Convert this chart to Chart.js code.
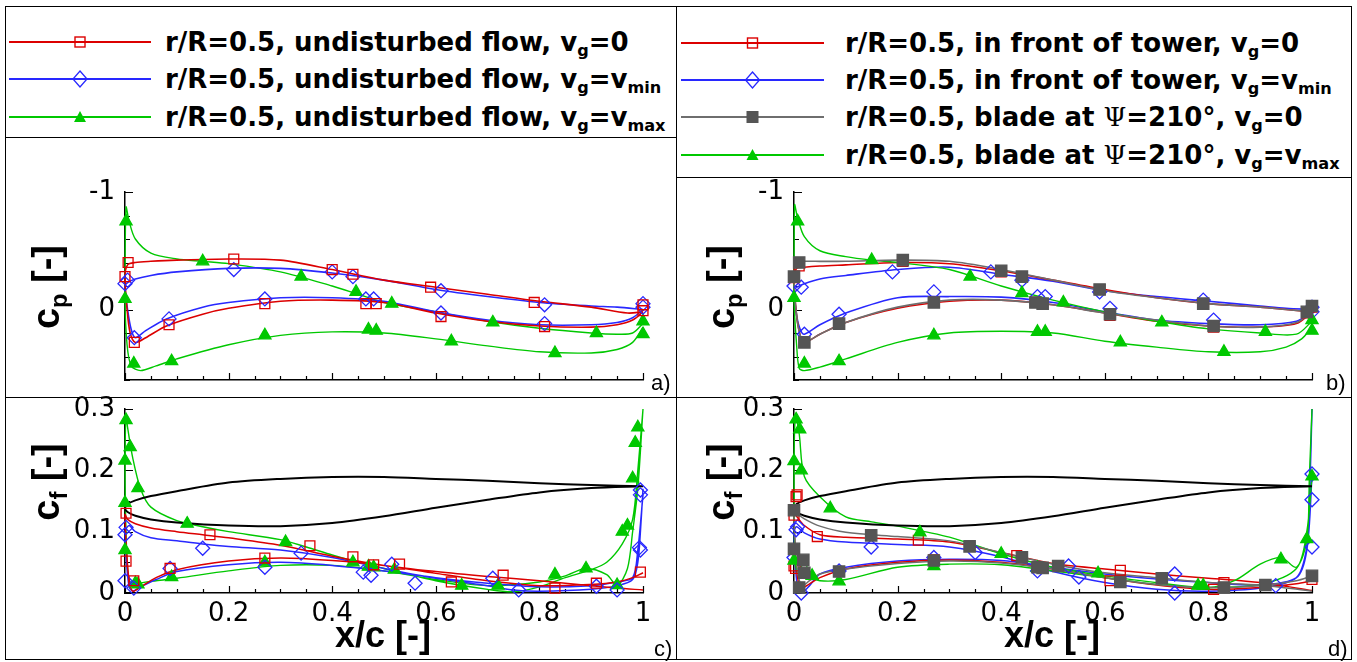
<!DOCTYPE html>
<html>
<head>
<meta charset="utf-8">
<script src="https://cdn.jsdelivr.net/npm/chart.js@4.4.1/dist/chart.umd.min.js"></script>
<style>
  html, body { margin: 0; padding: 0; background: #fff; }
  body { width: 1357px; height: 662px; position: relative; overflow: hidden; }
  .rule { position: absolute; background: #000; }
  canvas { position: absolute; }
  .leg { position: absolute; white-space: nowrap; font: bold 26px "DejaVu Sans", sans-serif; line-height: 30px; color: #000; }
  .leg sub, .ytitle sub { font-size: 62%; position: relative; top: 0.32em; vertical-align: baseline; line-height: 0; }
  .psi { font-family: "DejaVu Serif", serif; font-weight: normal; }
  .sym { position: absolute; }
  .ytitle { position: absolute; white-space: nowrap; font: bold 38px "Liberation Sans", sans-serif; transform: translate(-50%, -50%) rotate(-90deg); }
  .xtitle { position: absolute; white-space: nowrap; font: bold 36px "Liberation Sans", sans-serif; transform: translate(-50%, -50%); }
  .tag { position: absolute; font: 22px "Liberation Sans", sans-serif; }
</style>
</head>
<body>

<div class="rule" style="left:5px;top:6px;width:1347px;height:1px"></div>
<div class="rule" style="left:5px;top:659px;width:1347px;height:1px"></div>
<div class="rule" style="left:5px;top:6px;width:1px;height:654px"></div>
<div class="rule" style="left:1351px;top:6px;width:1px;height:654px"></div>
<div class="rule" style="left:676px;top:6px;width:1px;height:654px"></div>
<div class="rule" style="left:5px;top:137px;width:671px;height:1px"></div>
<div class="rule" style="left:676px;top:177px;width:676px;height:1px"></div>
<div class="rule" style="left:5px;top:397px;width:1347px;height:1px"></div>

<div id="legend"></div>

<canvas id="pa" width="671" height="241" style="left:5px;top:166px"></canvas>
<canvas id="pb" width="676" height="241" style="left:676px;top:166px"></canvas>
<canvas id="pc" width="671" height="277" style="left:5px;top:383px"></canvas>
<canvas id="pd" width="676" height="277" style="left:676px;top:383px"></canvas>

<div class="ytitle" style="left:46px;top:287px">c<sub>p</sub> [-]</div>
<div class="ytitle" style="left:721px;top:287px">c<sub>p</sub> [-]</div>
<div class="ytitle" style="left:46px;top:482px">c<sub>f</sub> [-]</div>
<div class="ytitle" style="left:721px;top:482px">c<sub>f</sub> [-]</div>
<div class="xtitle" style="left:383px;top:635px">x/c [-]</div>
<div class="xtitle" style="left:1052px;top:635px">x/c [-]</div>
<div class="tag" style="left:651px;top:370px">a)</div>
<div class="tag" style="left:1326px;top:370px">b)</div>
<div class="tag" style="left:654px;top:636px">c)</div>
<div class="tag" style="left:1328px;top:636px">d)</div>

<script>
// pressure coefficient, undisturbed flow: each curve runs TE -> LE over the suction side, then LE -> TE
const aRedX   = [1, 0.97, 0.9, 0.8, 0.7, 0.6, 0.5, 0.4, 0.3, 0.2, 0.1, 0.05, 0.02, 0.005, 0, 0.004, 0.01, 0.02, 0.04, 0.08, 0.15, 0.2, 0.3, 0.4, 0.5, 0.6, 0.7, 0.8, 0.9, 0.95, 0.98, 1];
const aRedY   = [0.02, 0.03, -0.02, -0.07, -0.13, -0.19, -0.25, -0.34, -0.42, -0.43, -0.42, -0.41, -0.40, -0.38, -0.28, 0.0, 0.2, 0.28, 0.24, 0.14, 0.04, -0.01, -0.07, -0.08, -0.06, 0.03, 0.1, 0.14, 0.15, 0.13, 0.09, 0.02];
const aRedMx  = [0, 0.006, 0.21, 0.40, 0.44, 0.59, 0.79, 1.0, 0.018, 0.085, 0.27, 0.465, 0.485, 0.61, 0.81, 1.0];
const aRedMy  = [-0.28, -0.40, -0.43, -0.34, -0.30, -0.19, -0.06, -0.04, 0.28, 0.13, -0.05, -0.05, -0.05, 0.06, 0.145, 0.01];

const aBlueX  = [1, 0.95, 0.9, 0.8, 0.7, 0.6, 0.5, 0.4, 0.3, 0.2, 0.1, 0.05, 0.02, 0.005, 0, 0.005, 0.012, 0.02, 0.04, 0.08, 0.15, 0.2, 0.3, 0.4, 0.5, 0.6, 0.7, 0.8, 0.9, 0.95, 0.98, 1];
const aBlueY  = [0.0, -0.02, -0.03, -0.06, -0.11, -0.17, -0.25, -0.31, -0.35, -0.35, -0.32, -0.29, -0.26, -0.23, -0.2, 0.0, 0.17, 0.24, 0.18, 0.08, -0.02, -0.06, -0.1, -0.1, -0.07, 0.02, 0.09, 0.13, 0.13, 0.11, 0.07, 0.0];
const aBlueMx = [0, 0.005, 0.21, 0.40, 0.44, 0.61, 0.81, 1.0, 0.018, 0.085, 0.27, 0.465, 0.48, 0.61, 0.81, 1.0];
const aBlueMy = [-0.22, -0.25, -0.34, -0.32, -0.28, -0.16, -0.04, -0.05, 0.24, 0.08, -0.09, -0.09, -0.09, 0.03, 0.12, -0.02];

const aGreenX  = [1, 0.98, 0.95, 0.9, 0.8, 0.7, 0.6, 0.5, 0.45, 0.4, 0.3, 0.2, 0.15, 0.1, 0.05, 0.02, 0.008, 0.002, 0, 0.004, 0.012, 0.03, 0.06, 0.1, 0.2, 0.3, 0.4, 0.5, 0.6, 0.7, 0.8, 0.9, 0.95, 0.98, 1];
const aGreenY  = [0.12, 0.2, 0.21, 0.2, 0.16, 0.1, 0.02, -0.06, -0.13, -0.2, -0.32, -0.39, -0.41, -0.43, -0.48, -0.6, -0.75, -0.87, -0.1, 0.3, 0.48, 0.52, 0.48, 0.42, 0.3, 0.22, 0.19, 0.2, 0.25, 0.31, 0.36, 0.37, 0.34, 0.28, 0.15];
const aGreenMx = [0.002, 0, 0.15, 0.34, 0.446, 0.515, 0.71, 0.91, 1.0, 0.017, 0.09, 0.27, 0.47, 0.485, 0.63, 0.83, 1.0];
const aGreenMy = [-0.75, -0.09, -0.41, -0.28, -0.15, -0.05, 0.11, 0.20, 0.10, 0.46, 0.44, 0.22, 0.17, 0.18, 0.27, 0.37, 0.21];

// pressure coefficient, in front of the tower and at psi = 210 deg
const bGreyX  = [1, 0.95, 0.9, 0.8, 0.7, 0.6, 0.5, 0.4, 0.3, 0.2, 0.1, 0.05, 0.02, 0.005, 0, 0.005, 0.012, 0.02, 0.05, 0.1, 0.2, 0.3, 0.4, 0.5, 0.6, 0.7, 0.8, 0.9, 0.97, 1];
const bGreyY  = [0.02, 0.0, -0.02, -0.05, -0.1, -0.16, -0.25, -0.34, -0.41, -0.42, -0.41, -0.41, -0.41, -0.40, -0.28, 0.05, 0.22, 0.28, 0.21, 0.11, -0.02, -0.08, -0.08, -0.04, 0.03, 0.09, 0.14, 0.15, 0.11, 0.02];
const bGreyMx = [0, 0.01, 0.21, 0.40, 0.44, 0.59, 0.79, 1.0, 0.02, 0.087, 0.27, 0.466, 0.48, 0.61, 0.81, 0.99];
const bGreyMy = [-0.28, -0.40, -0.42, -0.33, -0.28, -0.17, -0.05, -0.03, 0.28, 0.12, -0.06, -0.06, -0.05, 0.04, 0.14, 0.02];

const bRedX   = [1, 0.95, 0.9, 0.8, 0.7, 0.6, 0.5, 0.4, 0.3, 0.2, 0.1, 0.05, 0.02, 0.005, 0, 0.005, 0.012, 0.02, 0.05, 0.1, 0.2, 0.3, 0.4, 0.5, 0.6, 0.7, 0.8, 0.9, 0.97, 1];
const bRedY   = [0.02, 0.0, -0.02, -0.05, -0.1, -0.17, -0.25, -0.33, -0.39, -0.40, -0.38, -0.37, -0.36, -0.35, -0.27, 0.05, 0.22, 0.28, 0.21, 0.11, -0.01, -0.07, -0.08, -0.04, 0.03, 0.1, 0.14, 0.15, 0.12, 0.02];
const bRedMx  = [0, 0.01, 0.21, 0.40, 0.44, 0.59, 0.79, 1.0, 0.02, 0.087, 0.27, 0.466, 0.48, 0.61, 0.81, 0.99];
const bRedMy  = [-0.27, -0.37, -0.41, -0.32, -0.28, -0.17, -0.05, -0.02, 0.28, 0.12, -0.06, -0.06, -0.05, 0.05, 0.15, 0.03];

const bBlueX  = [1, 0.95, 0.9, 0.8, 0.7, 0.6, 0.5, 0.4, 0.3, 0.2, 0.1, 0.05, 0.02, 0.005, 0, 0.005, 0.012, 0.02, 0.05, 0.1, 0.2, 0.3, 0.4, 0.5, 0.6, 0.7, 0.8, 0.9, 0.97, 1];
const bBlueY  = [0.0, -0.01, -0.03, -0.07, -0.11, -0.16, -0.24, -0.30, -0.36, -0.34, -0.29, -0.26, -0.22, -0.19, -0.2, 0.05, 0.17, 0.21, 0.13, 0.03, -0.1, -0.11, -0.105, -0.06, 0.02, 0.09, 0.12, 0.13, 0.1, 0.02];
const bBlueMx = [0, 0.014, 0.19, 0.38, 0.44, 0.59, 0.79, 1.0, 0.02, 0.087, 0.27, 0.47, 0.485, 0.61, 0.81, 1.0];
const bBlueMy = [-0.2, -0.19, -0.32, -0.32, -0.25, -0.15, -0.08, -0.02, 0.21, 0.04, -0.15, -0.11, -0.11, -0.01, 0.09, 0.02];

const bGreenX  = [1, 0.97, 0.9, 0.8, 0.7, 0.6, 0.5, 0.4, 0.3, 0.2, 0.15, 0.1, 0.05, 0.02, 0.007, 0.001, 0, 0.005, 0.01, 0.02, 0.05, 0.1, 0.2, 0.3, 0.4, 0.5, 0.6, 0.7, 0.8, 0.9, 0.95, 0.98, 1];
const bGreenY  = [0.1, 0.21, 0.2, 0.165, 0.1, 0.02, -0.08, -0.2, -0.34, -0.40, -0.42, -0.45, -0.5, -0.62, -0.78, -0.89, -0.1, 0.3, 0.5, 0.52, 0.49, 0.42, 0.28, 0.2, 0.185, 0.2, 0.27, 0.32, 0.36, 0.36, 0.32, 0.25, 0.15];
const bGreenMx = [0.007, 0, 0.15, 0.34, 0.44, 0.52, 0.71, 0.91, 1.0, 1.0, 0.02, 0.087, 0.27, 0.47, 0.485, 0.63, 0.83];
const bGreenMy = [-0.75, -0.1, -0.42, -0.28, -0.14, -0.06, 0.11, 0.19, 0.09, 0.18, 0.46, 0.44, 0.22, 0.19, 0.19, 0.28, 0.36];

// blade section outline drawn over the skin friction plots
const foilX = [1, 0.9, 0.8, 0.7, 0.6, 0.5, 0.4, 0.3, 0.2, 0.1, 0.05, 0.02, 0.005, 0, 0.005, 0.02, 0.05, 0.1, 0.2, 0.3, 0.4, 0.5, 0.6, 0.7, 0.8, 0.9, 1];
const foilY = [0.174, 0.176, 0.179, 0.183, 0.186, 0.189, 0.189, 0.186, 0.180, 0.166, 0.158, 0.151, 0.145, 0.138, 0.132, 0.126, 0.12, 0.115, 0.11, 0.109, 0.114, 0.125, 0.139, 0.152, 0.164, 0.171, 0.174];

// skin friction, undisturbed flow
const cRedX   = [1, 0.95, 0.9, 0.8, 0.7, 0.6, 0.5, 0.4, 0.3, 0.2, 0.15, 0.1, 0.05, 0.02, 0.005, 0, 0.003, 0.008, 0.015, 0.03, 0.06, 0.1, 0.2, 0.3, 0.4, 0.5, 0.6, 0.7, 0.8, 0.9, 0.95, 0.98, 1];
const cRedY   = [0.005, 0.008, 0.012, 0.02, 0.027, 0.035, 0.045, 0.06, 0.078, 0.09, 0.095, 0.1, 0.106, 0.113, 0.12, 0.128, 0.07, 0.02, 0.003, 0.01, 0.025, 0.038, 0.052, 0.057, 0.053, 0.045, 0.032, 0.02, 0.012, 0.014, 0.018, 0.025, 0.033];
const cRedMx  = [0.002, 0.002, 0.017, 0.087, 0.164, 0.27, 0.357, 0.44, 0.48, 0.53, 0.63, 0.73, 0.83, 0.91, 0.995];
const cRedMy  = [0.13, 0.052, 0.02, 0.04, 0.095, 0.057, 0.077, 0.059, 0.046, 0.047, 0.018, 0.029, 0.008, 0.016, 0.034];

const cBlueX  = [1, 0.995, 0.99, 0.98, 0.95, 0.9, 0.8, 0.75, 0.7, 0.6, 0.5, 0.4, 0.3, 0.2, 0.15, 0.1, 0.05, 0.02, 0.008, 0, 0.003, 0.008, 0.015, 0.03, 0.06, 0.1, 0.2, 0.3, 0.4, 0.5, 0.6, 0.7, 0.8, 0.9, 0.95, 0.98, 0.99, 1];
const cBlueY  = [0.17, 0.1, 0.05, 0.022, 0.012, 0.006, 0.003, 0.005, 0.012, 0.024, 0.04, 0.058, 0.07, 0.076, 0.08, 0.085, 0.09, 0.1, 0.11, 0.1, 0.05, 0.01, 0.003, 0.01, 0.022, 0.035, 0.046, 0.05, 0.045, 0.036, 0.025, 0.016, 0.01, 0.012, 0.018, 0.025, 0.07, 0.16];
const cBlueMx = [0, 0.002, 0, 0.017, 0.087, 0.15, 0.27, 0.34, 0.46, 0.475, 0.515, 0.56, 0.71, 0.76, 0.91, 0.95, 0.995, 0.995, 0.993, 0.995];
const cBlueMy = [0.095, 0.107, 0.02, 0.008, 0.04, 0.073, 0.042, 0.065, 0.034, 0.029, 0.047, 0.016, 0.024, 0.005, 0.011, 0.005, 0.168, 0.16, 0.074, 0.07];

const cGreenX  = [1, 0.99, 0.98, 0.96, 0.93, 0.9, 0.85, 0.8, 0.75, 0.7, 0.6, 0.5, 0.45, 0.4, 0.35, 0.3, 0.2, 0.15, 0.1, 0.05, 0.03, 0.015, 0.005, 0.002, 0, 0.002, 0.006, 0.015, 0.03, 0.06, 0.1, 0.2, 0.3, 0.4, 0.5, 0.6, 0.7, 0.8, 0.85, 0.89, 0.93, 0.95, 0.97, 0.98, 0.99, 1];
const cGreenY  = [0.3, 0.2, 0.12, 0.08, 0.05, 0.038, 0.025, 0.01, 0.002, 0.006, 0.02, 0.04, 0.05, 0.062, 0.075, 0.087, 0.1, 0.108, 0.118, 0.14, 0.17, 0.22, 0.27, 0.29, 0.2, 0.1, 0.03, 0.01, 0.016, 0.02, 0.024, 0.036, 0.045, 0.045, 0.036, 0.022, 0.012, 0.018, 0.028, 0.04, 0.03, 0.012, 0.04, 0.1, 0.17, 0.3];
const cGreenMx = [0.002, 0.01, 0, 0.025, 0, 0, 0.02, 0.025, 0.09, 0.12, 0.27, 0.31, 0.44, 0.47, 0.48, 0.52, 0.65, 0.72, 0.83, 0.89, 0.95, 0.96, 0.97, 0.98, 0.985, 0.99];
const cGreenMy = [0.282, 0.238, 0.216, 0.171, 0.147, 0.07, 0.016, 0.014, 0.026, 0.113, 0.05, 0.083, 0.05, 0.043, 0.042, 0.038, 0.012, 0.012, 0.03, 0.04, 0.013, 0.1, 0.11, 0.187, 0.245, 0.27];

// skin friction, in front of the tower and at psi = 210 deg
const dGreyX  = [1, 0.9, 0.8, 0.7, 0.6, 0.5, 0.4, 0.3, 0.2, 0.1, 0.05, 0.02, 0.005, 0, 0.003, 0.008, 0.015, 0.03, 0.05, 0.1, 0.2, 0.3, 0.4, 0.5, 0.6, 0.7, 0.8, 0.9, 0.97, 1];
const dGreyY  = [0.003, 0.013, 0.017, 0.025, 0.033, 0.047, 0.066, 0.085, 0.092, 0.099, 0.109, 0.121, 0.13, 0.135, 0.07, 0.03, 0.012, 0.02, 0.031, 0.039, 0.048, 0.052, 0.049, 0.039, 0.025, 0.014, 0.009, 0.012, 0.02, 0.028];
const dGreyMx = [0, 0.149, 0.339, 0.44, 0.51, 0.71, 0.91, 1.0, 0, 0.018, 0.02, 0.01, 0.087, 0.27, 0.47, 0.48, 0.63, 0.83];
const dGreyMy = [0.135, 0.094, 0.076, 0.058, 0.044, 0.024, 0.013, 0.028, 0.072, 0.054, 0.033, 0.009, 0.035, 0.053, 0.042, 0.041, 0.018, 0.009];

const dRedX   = [1, 0.9, 0.8, 0.7, 0.6, 0.5, 0.4, 0.3, 0.2, 0.1, 0.05, 0.02, 0.005, 0, 0.003, 0.008, 0.015, 0.03, 0.05, 0.1, 0.2, 0.3, 0.4, 0.5, 0.6, 0.7, 0.8, 0.9, 0.97, 1];
const dRedY   = [0.004, 0.017, 0.024, 0.031, 0.039, 0.048, 0.066, 0.083, 0.088, 0.091, 0.095, 0.11, 0.125, 0.13, 0.06, 0.02, 0.008, 0.015, 0.025, 0.039, 0.05, 0.054, 0.05, 0.039, 0.025, 0.013, 0.006, 0.009, 0.015, 0.02];
const dRedMx  = [0.004, 0.006, 0, 0.045, 0.24, 0.43, 0.63, 0.83, 1.0, 0, 0.003, 0.27, 0.47, 0.61, 0.81];
const dRedMy  = [0.157, 0.16, 0.127, 0.092, 0.086, 0.061, 0.037, 0.017, 0.022, 0.044, 0.04, 0.054, 0.043, 0.02, 0.006];

const dBlueX  = [1, 0.995, 0.99, 0.97, 0.9, 0.8, 0.7, 0.6, 0.5, 0.4, 0.3, 0.2, 0.1, 0.05, 0.02, 0.005, 0, 0.003, 0.008, 0.015, 0.03, 0.05, 0.1, 0.2, 0.3, 0.4, 0.5, 0.6, 0.7, 0.8, 0.9, 0.97, 0.99, 1];
const dBlueY  = [0.3, 0.15, 0.075, 0.025, 0.008, 0.003, 0.006, 0.017, 0.035, 0.059, 0.075, 0.079, 0.083, 0.088, 0.098, 0.108, 0.1, 0.04, 0.005, 0.0, 0.012, 0.031, 0.042, 0.052, 0.055, 0.053, 0.042, 0.031, 0.023, 0.017, 0.013, 0.025, 0.07, 0.19];
const dBlueMx = [0.007, 0.004, 0.149, 0.35, 0.47, 0.55, 0.735, 1.0, 1.0, 1.0, 0, 0.014, 0.087, 0.27, 0.53, 0.735, 0.93];
const dBlueMy = [0.108, 0.103, 0.075, 0.066, 0.036, 0.026, 0.0, 0.075, 0.152, 0.194, 0.058, 0.0, 0.036, 0.058, 0.044, 0.031, 0.012];

const dGreenX  = [1, 0.995, 0.99, 0.97, 0.94, 0.9, 0.85, 0.8, 0.7, 0.6, 0.5, 0.4, 0.3, 0.2, 0.15, 0.1, 0.05, 0.02, 0.01, 0.003, 0, 0.002, 0.01, 0.02, 0.03, 0.05, 0.1, 0.2, 0.3, 0.4, 0.5, 0.6, 0.7, 0.8, 0.9, 0.97, 0.99, 1];
const dGreenY  = [0.3, 0.19, 0.086, 0.042, 0.058, 0.047, 0.02, 0.009, 0.017, 0.028, 0.042, 0.064, 0.091, 0.109, 0.116, 0.124, 0.157, 0.19, 0.26, 0.29, 0.2, 0.05, 0.03, 0.06, 0.028, 0.02, 0.022, 0.042, 0.047, 0.046, 0.036, 0.025, 0.014, 0.009, 0.014, 0.04, 0.1, 0.19];
const dGreenMx = [0.004, 0.011, 0, 0.014, 0.07, 0.243, 0.4, 0.587, 0.78, 0.94, 0.99, 1.0, 0, 0.035, 0.087, 0.27, 0.47, 0.79];
const dGreenMy = [0.283, 0.267, 0.215, 0.2, 0.138, 0.099, 0.064, 0.032, 0.012, 0.055, 0.088, 0.19, 0.053, 0.028, 0.019, 0.044, 0.041, 0.012];

const RED = 'rgb(220,0,0)', BLUE = 'rgb(40,40,255)', GREEN = 'rgb(0,200,0)';
const GREY_LINE = 'rgb(110,110,110)', GREY_MARK = 'rgb(85,85,85)';

const MARKS = {
    red:   { style: 'rect',     r: 7,   line: RED,       fill: 'rgba(0,0,0,0)' },
    blue:  { style: 'rectRot',  r: 7,   line: BLUE,      fill: 'rgba(0,0,0,0)' },
    green: { style: 'triangle', r: 7,   line: GREEN,     fill: GREEN },
    grey:  { style: 'rect',     r: 8,   line: GREY_MARK, fill: GREY_MARK }
};

function xy(xs, ys) {
    return xs.map((x, i) => ({ x, y: ys[i] }));
}

function curve(xs, ys, color, width, order) {
    return {
        data: xy(xs, ys), showLine: true, borderColor: color, borderWidth: width,
        pointRadius: 0, pointHoverRadius: 0, tension: 0.3, clip: false, order: order
    };
}

function marks(xs, ys, kind, order) {
    const m = MARKS[kind];
    return {
        data: xy(xs, ys), showLine: false, pointStyle: m.style,
        pointRadius: m.r, pointHoverRadius: m.r, pointBorderWidth: 1.3,
        pointBorderColor: m.line, pointBackgroundColor: m.fill, clip: false, order: order
    };
}

// Tecplot-style ticks pointing into the plot
const innerTicks = {
    id: 'innerTicks',
    beforeDatasetsDraw(chart, args, o) {
        const { ctx, chartArea: a, scales: { x, y } } = chart;
        const along = (lo, hi, step) => {
            const out = [];
            for (let i = 0; lo + i * step <= hi + 1e-9; i++) out.push(lo + i * step);
            return out;
        };
        const isMajor = (v, lo, major) => {
            const r = (v - lo) / major;
            return Math.abs(r - Math.round(r)) < 1e-6;
        };
        ctx.save();
        ctx.strokeStyle = '#000';
        ctx.lineWidth = 1.2;
        ctx.beginPath();
        along(x.min, x.max, o.xMinor).forEach(v => {
            const px = Math.round(x.getPixelForValue(v)) + 0.5;
            const len = isMajor(v, x.min, o.xMajor) ? 7 : 4;
            ctx.moveTo(px, a.bottom);
            ctx.lineTo(px, a.bottom - len);
        });
        along(y.min, y.max, o.yMinor).forEach(v => {
            const py = Math.round(y.getPixelForValue(v)) + 0.5;
            const len = isMajor(v, y.min, o.yMajor) ? 8 : 5;
            ctx.moveTo(a.left, py);
            ctx.lineTo(a.left + len, py);
        });
        ctx.stroke();
        ctx.restore();
    }
};

Chart.defaults.color = '#000';
Chart.defaults.font.family = '"DejaVu Sans", sans-serif';

const tickText = v => String(Math.round(v * 100) / 100);

function panel(id, box, ycfg, showX, datasets) {
    return new Chart(document.getElementById(id), {
        type: 'scatter',
        data: { datasets },
        plugins: [innerTicks],
        options: {
            responsive: false,
            animation: false,
            events: [],
            layout: { padding: { left: 0, top: box.top, right: box.right, bottom: 0 } },
            plugins: {
                legend: { display: false },
                tooltip: { enabled: false },
                innerTicks: { xMajor: 0.2, xMinor: 0.05, yMajor: ycfg.major, yMinor: ycfg.minor }
            },
            scales: {
                x: {
                    type: 'linear', position: 'bottom', min: 0, max: 1,
                    grid: { display: false, drawTicks: false },
                    border: { display: true, color: '#000', width: 1.5 },
                    ticks: { display: showX, stepSize: 0.2, padding: 6, maxRotation: 0, autoSkip: false,
                             font: { size: 26 }, callback: tickText },
                    afterFit: s => { s.height = box.xh; }
                },
                y: {
                    type: 'linear', position: 'left', min: ycfg.min, max: ycfg.max, reverse: ycfg.reverse,
                    grid: { display: false, drawTicks: false },
                    border: { display: true, color: '#000', width: 1.5 },
                    ticks: { stepSize: ycfg.major, includeBounds: false, padding: 10, font: { size: 26 }, callback: tickText },
                    afterFit: s => { s.width = box.yw; }
                }
            }
        }
    });
}

const CP = { min: -1, max: 0.6, reverse: true, major: 1, minor: 0.2 };
const CF = { min: 0, max: 0.3, reverse: false, major: 0.1, minor: 0.05 };

panel('pa', { top: 26, right: 33, xh: 27, yw: 120 }, CP, false, [
    curve(aRedX, aRedY, RED, 1.6, 3),
    curve(aBlueX, aBlueY, BLUE, 1.6, 3),
    curve(aGreenX, aGreenY, GREEN, 1.4, 3),
    marks(aRedMx, aRedMy, 'red', 1),
    marks(aBlueMx, aBlueMy, 'blue', 1),
    marks(aGreenMx, aGreenMy, 'green', 1)
]);

panel('pb', { top: 26, right: 40, xh: 27, yw: 118 }, CP, false, [
    curve(bRedX, bRedY, RED, 1.6, 4),
    curve(bBlueX, bBlueY, BLUE, 1.6, 4),
    curve(bGreyX, bGreyY, GREY_LINE, 1.6, 3),
    curve(bGreenX, bGreenY, GREEN, 1.4, 3),
    marks(bRedMx, bRedMy, 'red', 2),
    marks(bBlueMx, bBlueMy, 'blue', 2),
    marks(bGreyMx, bGreyMy, 'grey', 1),
    marks(bGreenMx, bGreenMy, 'green', 1)
]);

panel('pc', { top: 26, right: 33, xh: 67, yw: 120 }, CF, true, [
    curve(foilX, foilY, '#000', 2, 3),
    curve(cRedX, cRedY, RED, 1.5, 3),
    curve(cBlueX, cBlueY, BLUE, 1.5, 3),
    curve(cGreenX, cGreenY, GREEN, 1.4, 3),
    marks(cRedMx, cRedMy, 'red', 1),
    marks(cBlueMx, cBlueMy, 'blue', 1),
    marks(cGreenMx, cGreenMy, 'green', 1)
]);

panel('pd', { top: 26, right: 40, xh: 67, yw: 118 }, CF, true, [
    curve(foilX, foilY, '#000', 2, 3),
    curve(dRedX, dRedY, RED, 1.5, 4),
    curve(dBlueX, dBlueY, BLUE, 1.5, 4),
    curve(dGreyX, dGreyY, GREY_LINE, 1.5, 3),
    curve(dGreenX, dGreenY, GREEN, 1.4, 3),
    marks(dRedMx, dRedMy, 'red', 2),
    marks(dBlueMx, dBlueMy, 'blue', 2),
    marks(dGreyMx, dGreyMy, 'grey', 1),
    marks(dGreenMx, dGreenMy, 'green', 1)
]);

// legends: sample line with its symbol, then the label text
const legendLeft = [
    ['red',   'r/R=0.5, undisturbed flow, v<sub>g</sub>=0'],
    ['blue',  'r/R=0.5, undisturbed flow, v<sub>g</sub>=v<sub>min</sub>'],
    ['green', 'r/R=0.5, undisturbed flow, v<sub>g</sub>=v<sub>max</sub>']
];
const legendRight = [
    ['red',   'r/R=0.5, in front of tower, v<sub>g</sub>=0'],
    ['blue',  'r/R=0.5, in front of tower, v<sub>g</sub>=v<sub>min</sub>'],
    ['grey',  'r/R=0.5, blade at <span class="psi">&Psi;</span>=210&deg;, v<sub>g</sub>=0'],
    ['green', 'r/R=0.5, blade at <span class="psi">&Psi;</span>=210&deg;, v<sub>g</sub>=v<sub>max</sub>']
];

function symbolSvg(kind, w) {
    const c = { red: RED, blue: BLUE, green: GREEN, grey: GREY_LINE }[kind];
    const m = w / 2;
    let shape = '';
    if (kind === 'red') shape = `<rect x="${m - 5}" y="5" width="10" height="10" fill="none" stroke="${RED}" stroke-width="1.4"/>`;
    if (kind === 'blue') shape = `<polygon points="${m},2 ${m + 7},10 ${m},18 ${m - 7},10" fill="none" stroke="${BLUE}" stroke-width="1.3"/>`;
    if (kind === 'green') shape = `<polygon points="${m},4 ${m + 6},15 ${m - 6},15" fill="${GREEN}"/>`;
    if (kind === 'grey') shape = `<rect x="${m - 6}" y="4" width="12" height="12" fill="${GREY_MARK}"/>`;
    return `<svg width="${w}" height="20"><line x1="0" y1="10" x2="${w}" y2="10" stroke="${c}" stroke-width="2"/>${shape}</svg>`;
}

function buildLegend(rows, x0, lineW, textX, ys) {
    let html = '';
    rows.forEach(([kind, label], i) => {
        html += `<div class="sym" style="left:${x0}px;top:${ys[i] - 10}px">${symbolSvg(kind, lineW)}</div>`;
        html += `<div class="leg" style="left:${textX}px;top:${ys[i] - 15}px">${label}</div>`;
    });
    return html;
}

document.getElementById('legend').innerHTML =
    buildLegend(legendLeft, 9, 142, 165, [42, 79, 117]) +
    buildLegend(legendRight, 681, 143, 845, [43, 80, 117, 155]);
</script>
</body>
</html>
